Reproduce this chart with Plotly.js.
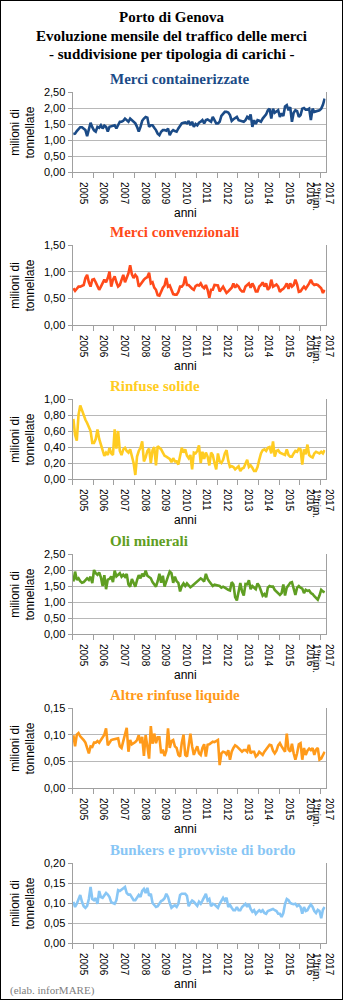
<!DOCTYPE html>
<html><head><meta charset="utf-8">
<script src="https://cdn.plot.ly/plotly-3.0.1.min.js"></script>
<style>
html,body{margin:0;padding:0;background:#fff}
#wrap{position:relative;width:343px;height:1000px}
#chart{width:343px;height:1000px}
#frame{position:absolute;left:0;top:0;width:343px;height:1000px;box-sizing:border-box;border:1px solid #000;pointer-events:none}
</style>
</head><body><div id="wrap"><div id="chart"></div><div id="frame"></div></div>
<script>
// ---- data (milioni di tonnellate, monthly Jan 2005 - Mar 2017) ----
const yearLabels = ['2005','2006','2007','2008','2009','2010','2011','2012','2013','2014','2015','2016','2017<br>1°trim.'];
const titles = ['Merci containerizzate','Merci convenzionali','Rinfuse solide','Oli minerali','Altre rinfuse liquide','Bunkers e provviste di bordo'];

const containerizzate = [
1.19,1.20,1.28,1.34,1.40,1.40,1.36,1.31,1.12,1.36,1.54,1.40,
1.30,1.26,1.41,1.38,1.46,1.36,1.45,1.41,1.26,1.41,1.43,1.46,
1.46,1.36,1.48,1.57,1.57,1.60,1.67,1.62,1.57,1.67,1.62,1.55,
1.52,1.41,1.26,1.41,1.60,1.67,1.72,1.70,1.41,1.46,1.46,1.38,
1.31,1.20,1.15,1.26,1.31,1.31,1.29,1.36,1.15,1.26,1.31,1.28,
1.26,1.36,1.45,1.52,1.54,1.55,1.52,1.59,1.46,1.57,1.41,1.50,
1.46,1.54,1.57,1.62,1.52,1.62,1.64,1.60,1.57,1.72,1.60,1.52,
1.52,1.57,1.75,1.83,1.88,1.88,1.86,1.78,1.60,1.65,1.70,1.72,
1.62,1.60,1.57,1.57,1.62,1.72,1.67,1.80,1.41,1.62,1.50,1.62,
1.60,1.57,1.67,1.75,1.80,1.93,1.98,1.67,1.98,1.85,1.90,1.93,
1.72,1.83,1.75,2.05,2.09,1.93,2.03,1.57,1.85,1.93,1.90,1.72,
1.78,1.98,2.00,1.95,1.95,1.98,1.62,1.98,1.88,1.90,1.92,1.93,
1.98,2.10,2.29];

const convenzionali = [
0.69,0.64,0.68,0.72,0.72,0.74,0.75,0.88,0.94,0.80,0.72,0.85,
0.86,0.80,0.72,0.66,0.72,0.80,0.85,0.80,0.88,1.00,0.72,0.85,
0.91,0.80,0.72,0.75,0.86,0.94,0.80,0.90,0.97,1.12,0.95,0.88,
0.94,0.90,0.72,0.76,0.81,0.85,0.88,0.90,0.98,0.78,0.80,0.70,
0.66,0.56,0.55,0.63,0.70,0.74,0.88,0.72,0.74,0.66,0.58,0.57,
0.57,0.62,0.72,0.72,0.76,0.91,0.75,0.75,0.71,0.68,0.66,0.73,
0.75,0.74,0.78,0.72,0.69,0.75,0.66,0.51,0.66,0.66,0.75,0.74,
0.74,0.63,0.68,0.72,0.66,0.60,0.63,0.66,0.70,0.78,0.70,0.75,
0.72,0.66,0.63,0.63,0.72,0.75,0.78,0.70,0.78,0.72,0.63,0.63,
0.72,0.75,0.80,0.72,0.78,0.66,0.70,0.85,0.72,0.74,0.76,0.72,
0.62,0.66,0.68,0.72,0.78,0.68,0.78,0.72,0.75,0.85,0.76,0.62,
0.63,0.68,0.72,0.68,0.72,0.78,0.85,0.78,0.75,0.76,0.75,0.72,
0.69,0.60,0.66];

const rinfuseSolide = [
0.75,0.55,0.48,0.80,0.92,0.86,0.78,0.74,0.70,0.64,0.60,0.45,
0.45,0.50,0.62,0.50,0.43,0.33,0.29,0.33,0.30,0.39,0.32,0.30,
0.62,0.38,0.60,0.35,0.30,0.37,0.39,0.35,0.33,0.37,0.28,0.20,
0.05,0.28,0.35,0.39,0.47,0.22,0.27,0.35,0.38,0.20,0.36,0.40,
0.17,0.41,0.39,0.37,0.33,0.29,0.28,0.26,0.25,0.21,0.26,0.22,
0.22,0.18,0.28,0.39,0.33,0.37,0.29,0.26,0.30,0.12,0.33,0.32,
0.35,0.42,0.20,0.34,0.25,0.33,0.28,0.17,0.33,0.30,0.20,0.12,
0.32,0.22,0.20,0.24,0.32,0.36,0.23,0.15,0.16,0.15,0.12,0.14,
0.16,0.10,0.13,0.14,0.20,0.24,0.15,0.17,0.14,0.10,0.10,0.15,
0.24,0.32,0.36,0.37,0.35,0.39,0.40,0.32,0.47,0.28,0.35,0.36,
0.33,0.32,0.30,0.30,0.37,0.30,0.28,0.28,0.32,0.35,0.34,0.38,
0.37,0.18,0.37,0.31,0.43,0.30,0.28,0.27,0.32,0.34,0.33,0.32,
0.34,0.32,0.36];

const oliMinerali = [
1.64,1.95,1.69,1.74,1.65,1.60,1.62,1.68,1.74,1.69,1.79,1.59,
2.00,1.90,1.85,1.92,1.77,1.50,1.84,1.40,1.70,1.72,1.80,1.62,
1.98,1.80,1.85,1.90,1.79,1.85,1.79,1.88,1.55,1.48,1.72,1.60,
1.48,1.68,1.84,1.74,1.88,1.80,1.98,1.82,1.78,1.74,1.62,1.55,
1.48,1.65,1.88,1.60,1.82,1.48,1.68,1.80,1.95,1.90,1.60,1.79,
1.65,1.60,1.33,1.50,1.58,1.50,1.58,1.52,1.46,1.50,1.55,1.62,
1.64,1.72,1.74,1.70,1.64,1.88,1.72,1.64,1.55,1.50,1.54,1.52,
1.52,1.50,1.45,1.48,1.45,1.40,1.38,1.36,1.62,1.55,1.15,1.05,
1.30,1.59,1.33,1.20,1.56,1.55,1.68,1.40,1.50,1.45,1.40,1.58,
1.50,1.35,1.20,1.25,1.15,1.45,1.50,1.48,1.48,1.38,1.33,1.28,
1.22,1.28,1.55,1.20,1.45,1.52,1.60,1.62,1.40,1.22,1.45,1.50,
1.45,1.42,1.28,1.38,1.35,1.36,1.28,1.25,1.18,1.12,1.07,1.20,
1.38,1.33,1.30];

const altreLiquide = [
0.099,0.078,0.100,0.103,0.097,0.094,0.090,0.085,0.075,0.065,0.078,0.077,
0.085,0.085,0.088,0.085,0.090,0.095,0.100,0.112,0.080,0.085,0.090,0.091,
0.092,0.093,0.093,0.078,0.075,0.088,0.100,0.113,0.068,0.090,0.082,0.084,
0.086,0.090,0.099,0.084,0.096,0.060,0.099,0.078,0.055,0.116,0.083,0.102,
0.084,0.095,0.095,0.065,0.072,0.060,0.070,0.112,0.075,0.088,0.090,0.078,
0.075,0.062,0.059,0.085,0.100,0.062,0.059,0.080,0.102,0.078,0.062,0.071,
0.078,0.065,0.062,0.075,0.082,0.059,0.081,0.082,0.084,0.087,0.086,0.088,
0.090,0.043,0.065,0.068,0.067,0.063,0.071,0.053,0.068,0.075,0.080,0.078,
0.074,0.071,0.068,0.071,0.071,0.068,0.081,0.065,0.068,0.068,0.059,0.062,
0.068,0.065,0.062,0.068,0.072,0.078,0.081,0.080,0.070,0.065,0.070,0.080,
0.084,0.078,0.072,0.068,0.102,0.072,0.068,0.083,0.065,0.053,0.065,0.082,
0.084,0.053,0.075,0.062,0.070,0.074,0.071,0.075,0.062,0.072,0.075,0.053,
0.055,0.062,0.068];

const bunkers = [
0.103,0.090,0.098,0.107,0.120,0.103,0.092,0.088,0.093,0.110,0.140,0.110,
0.107,0.112,0.098,0.130,0.115,0.113,0.120,0.125,0.121,0.115,0.102,0.100,
0.098,0.107,0.132,0.130,0.134,0.136,0.140,0.125,0.121,0.121,0.115,0.107,
0.107,0.115,0.120,0.115,0.130,0.135,0.125,0.138,0.118,0.123,0.100,0.095,
0.090,0.092,0.100,0.105,0.107,0.112,0.123,0.115,0.100,0.088,0.092,0.094,
0.090,0.098,0.120,0.123,0.123,0.123,0.118,0.092,0.100,0.106,0.103,0.098,
0.093,0.103,0.098,0.106,0.115,0.123,0.106,0.110,0.092,0.098,0.096,0.092,
0.088,0.098,0.106,0.113,0.106,0.113,0.090,0.095,0.088,0.082,0.082,0.090,
0.082,0.082,0.090,0.095,0.098,0.090,0.098,0.085,0.078,0.082,0.073,0.078,
0.082,0.078,0.082,0.075,0.073,0.080,0.082,0.085,0.085,0.082,0.080,0.073,
0.073,0.065,0.075,0.098,0.110,0.107,0.100,0.098,0.097,0.098,0.092,0.095,
0.090,0.073,0.090,0.080,0.082,0.090,0.096,0.090,0.080,0.075,0.083,0.080,
0.062,0.083,0.090];

const series = [containerizzate, convenzionali, rinfuseSolide, oliMinerali, altreLiquide, bunkers];
const yMax = [2.5, 1.5, 1.0, 2.5, 0.15, 0.20];
const yStep = [0.5, 0.5, 0.2, 0.5, 0.05, 0.05];
const colors = ['#1b4b87','#ff4a1a','#ffcc22','#5f9e22','#ff9a1a','#88c6f5'];

// ---- layout geometry (pixels) ----
const W = 343, H = 1000;
const plotL = 72.5, plotR = 325.5;
const tops = [92, 245, 399, 554, 708, 863];
const PH = 80;
const px = v => v / W;
const py = v => 1 - v / H;

const n = containerizzate.length;
const tickvals = yearLabels.map((_, i) => i < 12 ? i * 12 + 5.5 : 145);

const SANS = 'Liberation Sans, Arial, sans-serif';
const SERIF = 'Liberation Serif, Times New Roman, serif';
const AX = '#a0a0a0';

const data = [];
const layout = {
  width: W, height: H,
  margin: {l: 0, r: 0, t: 0, b: 0},
  paper_bgcolor: '#fff', plot_bgcolor: '#fff',
  showlegend: false,
  separators: ', ',
  annotations: [],
  hovermode: false
};

series.forEach((vals, k) => {
  const s = k === 0 ? '' : String(k + 1);
  data.push({
    type: 'scatter', mode: 'lines',
    x: vals.map((_, i) => i), y: vals,
    xaxis: 'x' + s, yaxis: 'y' + s,
    line: {color: colors[k], width: 2.6},
    hoverinfo: 'skip'
  });
  const top = tops[k], bot = tops[k] + PH;
  layout['xaxis' + s] = {
    domain: [px(plotL), px(plotR)], anchor: 'y' + s,
    range: [-0.5, n - 0.5],
    tickmode: 'array', tickvals: tickvals, ticktext: yearLabels,
    tickangle: 90, ticks: '', ticklabelstandoff: 7,
    tickfont: {family: SANS, size: 10, color: '#000'},
    showgrid: false, zeroline: false,
    showline: true, linecolor: AX, linewidth: 1,
    minor: {tickmode: 'linear', tick0: -0.5, dtick: 12, ticks: 'outside', ticklen: 5, tickcolor: AX, tickwidth: 1, showgrid: false},
    fixedrange: true
  };
  layout['yaxis' + s] = {
    domain: [py(bot), py(top)], anchor: 'x' + s,
    range: [0, yMax[k] * 1.00001], tick0: 0, dtick: yStep[k], tickformat: '.2f',
    tickfont: {family: SANS, size: 11, color: '#000'},
    showgrid: true, gridcolor: '#b8b8b8', gridwidth: 1,
    zeroline: false, showline: true, linecolor: AX, linewidth: 1, mirror: true,
    ticks: 'outside', ticklen: 4, tickcolor: AX,
    fixedrange: true
  };
  layout.annotations.push({
    text: '<b>' + titles[k] + '</b>', xref: 'paper', yref: 'paper',
    x: px(108), y: py(top - 13), xanchor: 'left', yanchor: 'middle', showarrow: false,
    font: {family: SERIF, size: 15, color: colors[k]}
  });
  layout.annotations.push({
    text: 'milioni di<br>tonnellate', xref: 'paper', yref: 'paper', textangle: -90,
    x: px(22.5), y: py(top + PH / 2), xanchor: 'center', yanchor: 'middle', showarrow: false,
    font: {family: SANS, size: 12, color: '#000'}
  });
  layout.annotations.push({
    text: 'anni', xref: 'paper', yref: 'paper',
    x: px(185), y: py(bot + 41), xanchor: 'center', yanchor: 'middle', showarrow: false,
    font: {family: SANS, size: 12, color: '#000'}
  });
});

const mainLines = ['Porto di Genova', 'Evoluzione mensile del traffico delle merci', '- suddivisione per tipologia di carichi -'];
const mainY = [17, 36, 54];
mainLines.forEach((t, i) => layout.annotations.push({
  text: '<b>' + t + '</b>', xref: 'paper', yref: 'paper',
  x: px(171.5), y: py(mainY[i]), xanchor: 'center', yanchor: 'middle', showarrow: false,
  font: {family: SERIF, size: 15, color: '#000'}
}));
layout.annotations.push({
  text: '(elab. inforMARE)', xref: 'paper', yref: 'paper',
  x: px(8), y: py(990), xanchor: 'left', yanchor: 'middle', showarrow: false,
  font: {family: SERIF, size: 11, color: '#808080'}
});

Plotly.newPlot('chart', data, layout, {staticPlot: true, displayModeBar: false});
</script>
</body></html>
